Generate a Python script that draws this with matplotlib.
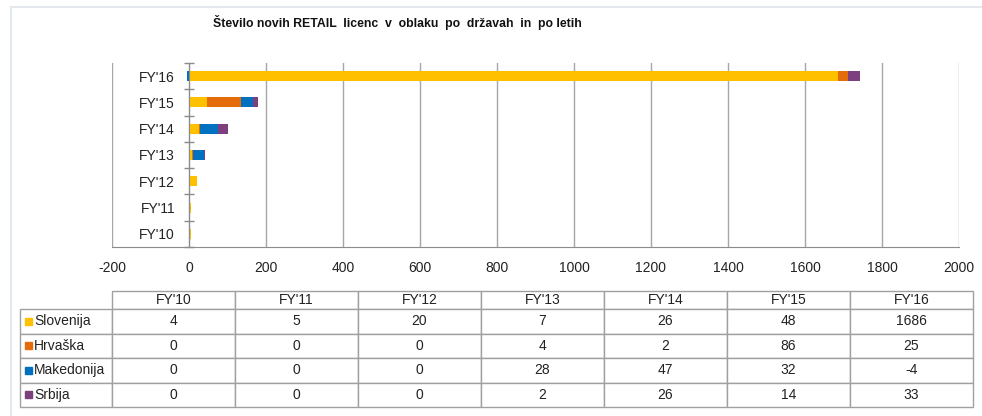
import matplotlib
matplotlib.use("Agg")
import matplotlib.pyplot as plt
import numpy as np
from matplotlib.patches import Rectangle
from matplotlib.lines import Line2D
from matplotlib.table import Table

years = ["FY'10", "FY'11", "FY'12", "FY'13", "FY'14", "FY'15", "FY'16"]
countries = ["Slovenija", "Hrvaška", "Makedonija", "Srbija"]
slovenija = [4, 5, 20, 7, 26, 48, 1686]
hrvaska = [0, 0, 0, 4, 2, 86, 25]
makedonija = [0, 0, 0, 28, 47, 32, -4]
srbija = [0, 0, 0, 2, 26, 14, 33]
colors = ["#FFC000", "#E46C0A", "#0070C0", "#7E3F7E"]
title = "Število novih RETAIL  licenc  v  oblaku  po  državah  in  po letih"

series = [slovenija, hrvaska, makedonija, srbija]

plt.rcParams['font.family'] = ['Liberation Sans', 'DejaVu Sans']
plt.rcParams['axes.unicode_minus'] = False
W, H = 982, 416
fig = plt.figure(figsize=(W / 100, H / 100), dpi=100)

# outer chart border (light)
fig.add_artist(Line2D([11 / W, 1.0], [1 - 7 / H, 1 - 7 / H], transform=fig.transFigure,
                      color="#e3e8ee", lw=1.5))
fig.add_artist(Line2D([11 / W, 11 / W], [1 - 7 / H, 0.0], transform=fig.transFigure,
                      color="#e3e8ee", lw=1.5))

fig.text(397 / W, 1 - 22 / H, title, ha="center", va="center", fontsize=8.8,
         fontweight="bold", color="#111111")

# bar chart axes
left, right, top, bottom = 112, 959, 63, 247
ax = fig.add_axes([left / W, 1 - bottom / H, (right - left) / W, (bottom - top) / H])
y = np.arange(len(years))
pos_base = np.zeros(len(years))
neg_base = np.zeros(len(years))
for vals, c in zip(series, colors):
    v = np.array(vals, dtype=float)
    base = np.where(v >= 0, pos_base, neg_base)
    ax.barh(y, v, left=base, height=0.38, color=c, zorder=2)
    pos_base += np.where(v >= 0, v, 0)
    neg_base += np.where(v < 0, v, 0)

ax.set_xlim(-200, 2000)
ax.set_ylim(-0.5, len(years) - 0.5)
ax.set_xticks(np.arange(-200, 2001, 200))
ax.tick_params(axis="x", length=0, pad=10, labelsize=10, colors="#222222")
ax.grid(axis="x", color="#a6a6a6", lw=1, zorder=0)
ax.set_yticks(y)
ax.set_yticklabels(years)
ax.set_yticks(np.arange(-0.5, len(years), 1.0), minor=True)
ax.tick_params(axis="y", which="major", length=0, pad=10, labelsize=10, colors="#222222")
ax.tick_params(axis="y", which="minor", direction="inout", length=6.5, width=1, color="#8c8c8c")
ax.spines["left"].set_position(("data", 0))
ax.spines["left"].set_color("#8c8c8c")
ax.spines["left"].set_zorder(3)
ax.spines["bottom"].set_color("#8c8c8c")
ax.spines["top"].set_visible(False)
ax.spines["right"].set_visible(False)

# data table
tl, tr, tt, tb = 20, 973, 291, 407
tax = fig.add_axes([tl / W, 1 - tb / H, (tr - tl) / W, (tb - tt) / H])
tax.set_xlim(tl, tr)
tax.set_ylim(tb, tt)
tax.axis("off")

tbl = Table(tax, bbox=[0, 0, 1, 1])
lab_w, col_w = 92, 123
hdr_h, row_h = 18, 24.5
edge = "#a0a0a0"
for j, yr in enumerate(years):
    c = tbl.add_cell(0, j + 1, col_w, hdr_h, text=yr, loc="center")
    c.set_edgecolor(edge)
c = tbl.add_cell(0, 0, lab_w, hdr_h, text="", loc="left")
c.visible_edges = ""
for i, vals in enumerate(series):
    c = tbl.add_cell(i + 1, 0, lab_w, row_h, text="", loc="left")
    c.set_edgecolor(edge)
    for j, v in enumerate(vals):
        c = tbl.add_cell(i + 1, j + 1, col_w, row_h, text=str(v), loc="center")
        c.set_edgecolor(edge)
tbl.auto_set_font_size(False)
tbl.set_fontsize(10)
for cell in tbl.get_celld().values():
    cell.set_linewidth(1)
    cell.get_text().set_color("#222222")
tax.add_table(tbl)

for i, (name, c) in enumerate(zip(countries, colors)):
    yc = tt + hdr_h + row_h * (i + 0.5)
    tax.add_patch(Rectangle((25, yc - 3.5), 7, 7, color=c, zorder=5, clip_on=False))
    tax.text(34, yc, name, ha="left", va="center", fontsize=10, color="#222222", zorder=6)

fig.savefig("out.png", dpi=100)
